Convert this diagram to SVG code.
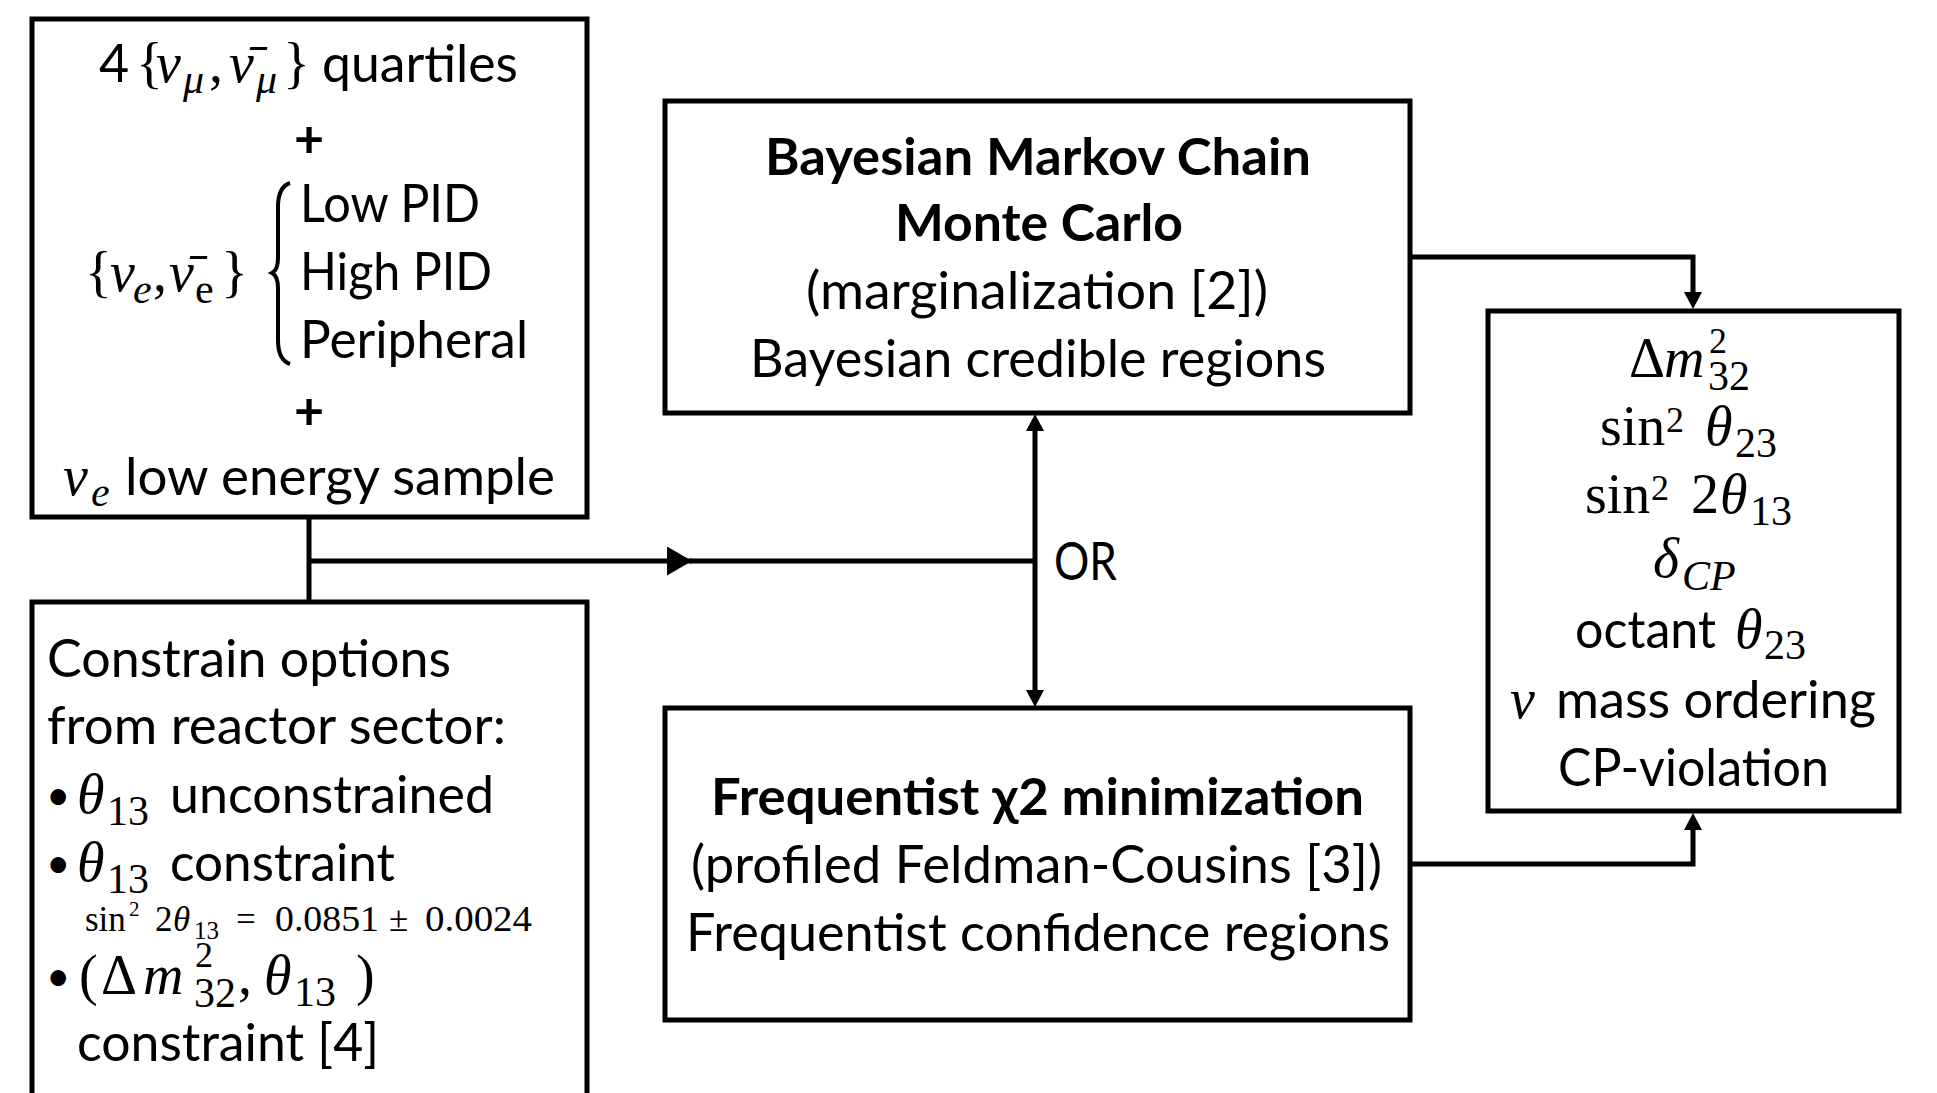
<svg xmlns="http://www.w3.org/2000/svg" width="1937" height="1093" viewBox="0 0 1937 1093">
<defs>
<style>
.box{fill:#fff;stroke:#000;stroke-width:5}
.con{fill:none;stroke:#000;stroke-width:5;stroke-linejoin:miter}
.s{font-family:Lato,"Liberation Sans",sans-serif;font-size:52px;fill:#000}
.sb{font-family:Lato,"Liberation Sans",sans-serif;font-size:52px;font-weight:bold;fill:#000}
.bul{font-family:Lato,"Liberation Sans",sans-serif;font-size:42px;fill:#000}
.m{font-family:"Liberation Serif","DejaVu Serif",serif;font-size:56px;fill:#000}
.i{font-style:italic}
.sub{font-size:42px}
.sup{font-size:36px}
.sm{font-size:35px}
</style>
<marker id="ah" markerUnits="userSpaceOnUse" markerWidth="17" markerHeight="18" refX="7" refY="9" orient="auto"><path d="M0,0L17,9L0,18z" fill="#000"/></marker>
<marker id="ahBig" markerUnits="userSpaceOnUse" markerWidth="25" markerHeight="29" refX="25" refY="14.5" orient="auto"><path d="M0,0L25,14.5L0,29z" fill="#000"/></marker>
</defs>
<rect x="0" y="0" width="1937" height="1093" fill="#fff"/>

<g id="node-samples">
<rect class="box" x="32" y="19" width="555" height="498"/>
<text class="s" x="99" y="82">4</text>
<text class="m" y="82"><tspan x="136">{</tspan><tspan class="i" x="156">ν</tspan><tspan class="i sub" x="183" y="93">μ</tspan><tspan x="209" y="82">,</tspan><tspan class="i" x="229">ν̄</tspan><tspan class="i sub" x="256" y="93">μ</tspan><tspan x="283" y="82">}</tspan></text>
<text class="s" x="322" y="82" textLength="196" lengthAdjust="spacingAndGlyphs">quartiles</text>
<text class="sb" x="309" y="157" text-anchor="middle">+</text>
<text class="m" y="291"><tspan x="85">{</tspan><tspan class="i" x="110">ν</tspan><tspan class="i sub" x="133" y="303">e</tspan><tspan x="153" y="291">,</tspan><tspan class="i" x="169">ν̄</tspan><tspan class="sub" x="195" y="303">e</tspan><tspan x="221" y="291">}</tspan></text>
<path d="M290,183 C281,186 278,195 278,207 L278,258 C278,266 276,271 272,273 C276,275 278,280 278,288 L278,340 C278,352 281,361 290,364" fill="none" stroke="#000" stroke-width="4"/>
<text class="s" x="300" y="222" textLength="180" lengthAdjust="spacingAndGlyphs">Low PID</text>
<text class="s" x="300" y="290" textLength="192" lengthAdjust="spacingAndGlyphs">High PID</text>
<text class="s" x="300" y="358" textLength="228" lengthAdjust="spacingAndGlyphs">Peripheral</text>
<text class="sb" x="309" y="429" text-anchor="middle">+</text>
<text class="m" y="495"><tspan class="i" x="63">ν</tspan><tspan class="i sub" x="91" y="506">e</tspan></text>
<text class="s" x="125" y="495" textLength="430" lengthAdjust="spacingAndGlyphs">low energy sample</text>
</g>

<g id="node-constraints">
<rect class="box" x="32" y="602" width="555" height="520"/>
<text class="s" x="47" y="677" textLength="404" lengthAdjust="spacingAndGlyphs">Constrain options</text>
<text class="s" x="47" y="744" textLength="459" lengthAdjust="spacingAndGlyphs">from reactor sector:</text>
<text class="bul" x="46" y="810">•</text>
<text class="m" y="813"><tspan class="i" x="77">θ</tspan><tspan class="sub" x="107" y="825">13</tspan></text>
<text class="s" x="170" y="813" textLength="324" lengthAdjust="spacingAndGlyphs">unconstrained</text>
<text class="bul" x="46" y="878">•</text>
<text class="m" y="881"><tspan class="i" x="77">θ</tspan><tspan class="sub" x="107" y="893">13</tspan></text>
<text class="s" x="170" y="881" textLength="225" lengthAdjust="spacingAndGlyphs">constraint</text>
<text class="m sm" y="931"><tspan x="85">sin</tspan><tspan x="129" y="916" style="font-size:21px">2</tspan><tspan x="155" y="931">2</tspan><tspan class="i" x="173">θ</tspan><tspan x="194" y="939" style="font-size:25px">13</tspan><tspan x="236" y="931">=</tspan></text>
<text class="m sm" x="275" y="931" textLength="104" lengthAdjust="spacingAndGlyphs">0.0851</text>
<text class="m sm" x="389" y="931">±</text>
<text class="m sm" x="425" y="931" textLength="107" lengthAdjust="spacingAndGlyphs">0.0024</text>
<text class="bul" x="46" y="991">•</text>
<text class="m" y="994"><tspan x="79">(</tspan><tspan x="101">Δ</tspan><tspan class="i" x="143">m</tspan><tspan class="sup" x="195" y="967">2</tspan><tspan class="sub" x="194" y="1007">32</tspan><tspan x="238" y="994">,</tspan><tspan class="i" x="264">θ</tspan><tspan class="sub" x="294" y="1006">13</tspan><tspan x="356" y="994">)</tspan></text>
<text class="s" x="77" y="1061" textLength="302" lengthAdjust="spacingAndGlyphs">constraint [4]</text>
</g>

<g id="node-bayesian">
<rect class="box" x="665" y="101" width="745" height="312"/>
<text class="sb" x="765" y="175" textLength="546" lengthAdjust="spacingAndGlyphs">Bayesian Markov Chain</text>
<text class="sb" x="895" y="241" textLength="288" lengthAdjust="spacingAndGlyphs">Monte Carlo</text>
<text class="s" x="806" y="309" textLength="462" lengthAdjust="spacingAndGlyphs">(marginalization [2])</text>
<text class="s" x="750" y="377" textLength="576" lengthAdjust="spacingAndGlyphs">Bayesian credible regions</text>
</g>

<g id="node-frequentist">
<rect class="box" x="665" y="708" width="745" height="312"/>
<text class="sb" x="711" y="815" textLength="653" lengthAdjust="spacingAndGlyphs">Frequentist χ2 minimization</text>
<text class="s" x="691" y="883" textLength="691" lengthAdjust="spacingAndGlyphs">(profiled Feldman-Cousins [3])</text>
<text class="s" x="686" y="951" textLength="704" lengthAdjust="spacingAndGlyphs">Frequentist confidence regions</text>
</g>

<g id="node-results">
<rect class="box" x="1488" y="311" width="411" height="500"/>
<text class="m" y="377"><tspan x="1629">Δ</tspan><tspan class="i" x="1664">m</tspan><tspan class="sup" x="1709" y="353">2</tspan><tspan class="sub" x="1708" y="390">32</tspan></text>
<text class="m" y="445"><tspan x="1600">sin</tspan><tspan class="sup" x="1666" y="432">2</tspan><tspan class="i" x="1705" y="445">θ</tspan><tspan class="sub" x="1735" y="457">23</tspan></text>
<text class="m" y="513"><tspan x="1585">sin</tspan><tspan class="sup" x="1651" y="500">2</tspan><tspan x="1691" y="513">2</tspan><tspan class="i" x="1720">θ</tspan><tspan class="sub" x="1750" y="525">13</tspan></text>
<text class="m" y="577"><tspan class="i" x="1653">δ</tspan><tspan class="i sub" x="1682" y="590">CP</tspan></text>
<text class="s" x="1575" y="648" textLength="141" lengthAdjust="spacingAndGlyphs">octant</text>
<text class="m" y="648"><tspan class="i" x="1735">θ</tspan><tspan class="sub" x="1764" y="659">23</tspan></text>
<text class="m i" x="1510" y="718">ν</text>
<text class="s" x="1556" y="718" textLength="320" lengthAdjust="spacingAndGlyphs">mass ordering</text>
<text class="s" x="1558" y="786" textLength="271" lengthAdjust="spacingAndGlyphs">CP-violation</text>
</g>

<g id="connectors">
<path class="con" d="M309,517 V602"/>
<path class="con" d="M309,561 H692" marker-end="url(#ahBig)"/>
<path class="con" d="M690,561 H1035"/>
<path class="con" d="M1035,561 V424" marker-end="url(#ah)"/>
<path class="con" d="M1035,561 V697" marker-end="url(#ah)"/>
<path class="con" d="M1410,257 H1693 V299" marker-end="url(#ah)"/>
<path class="con" d="M1410,864 H1693 V823" marker-end="url(#ah)"/>
<text class="s" x="1054" y="580" textLength="63" lengthAdjust="spacingAndGlyphs">OR</text>
</g>
</svg>
